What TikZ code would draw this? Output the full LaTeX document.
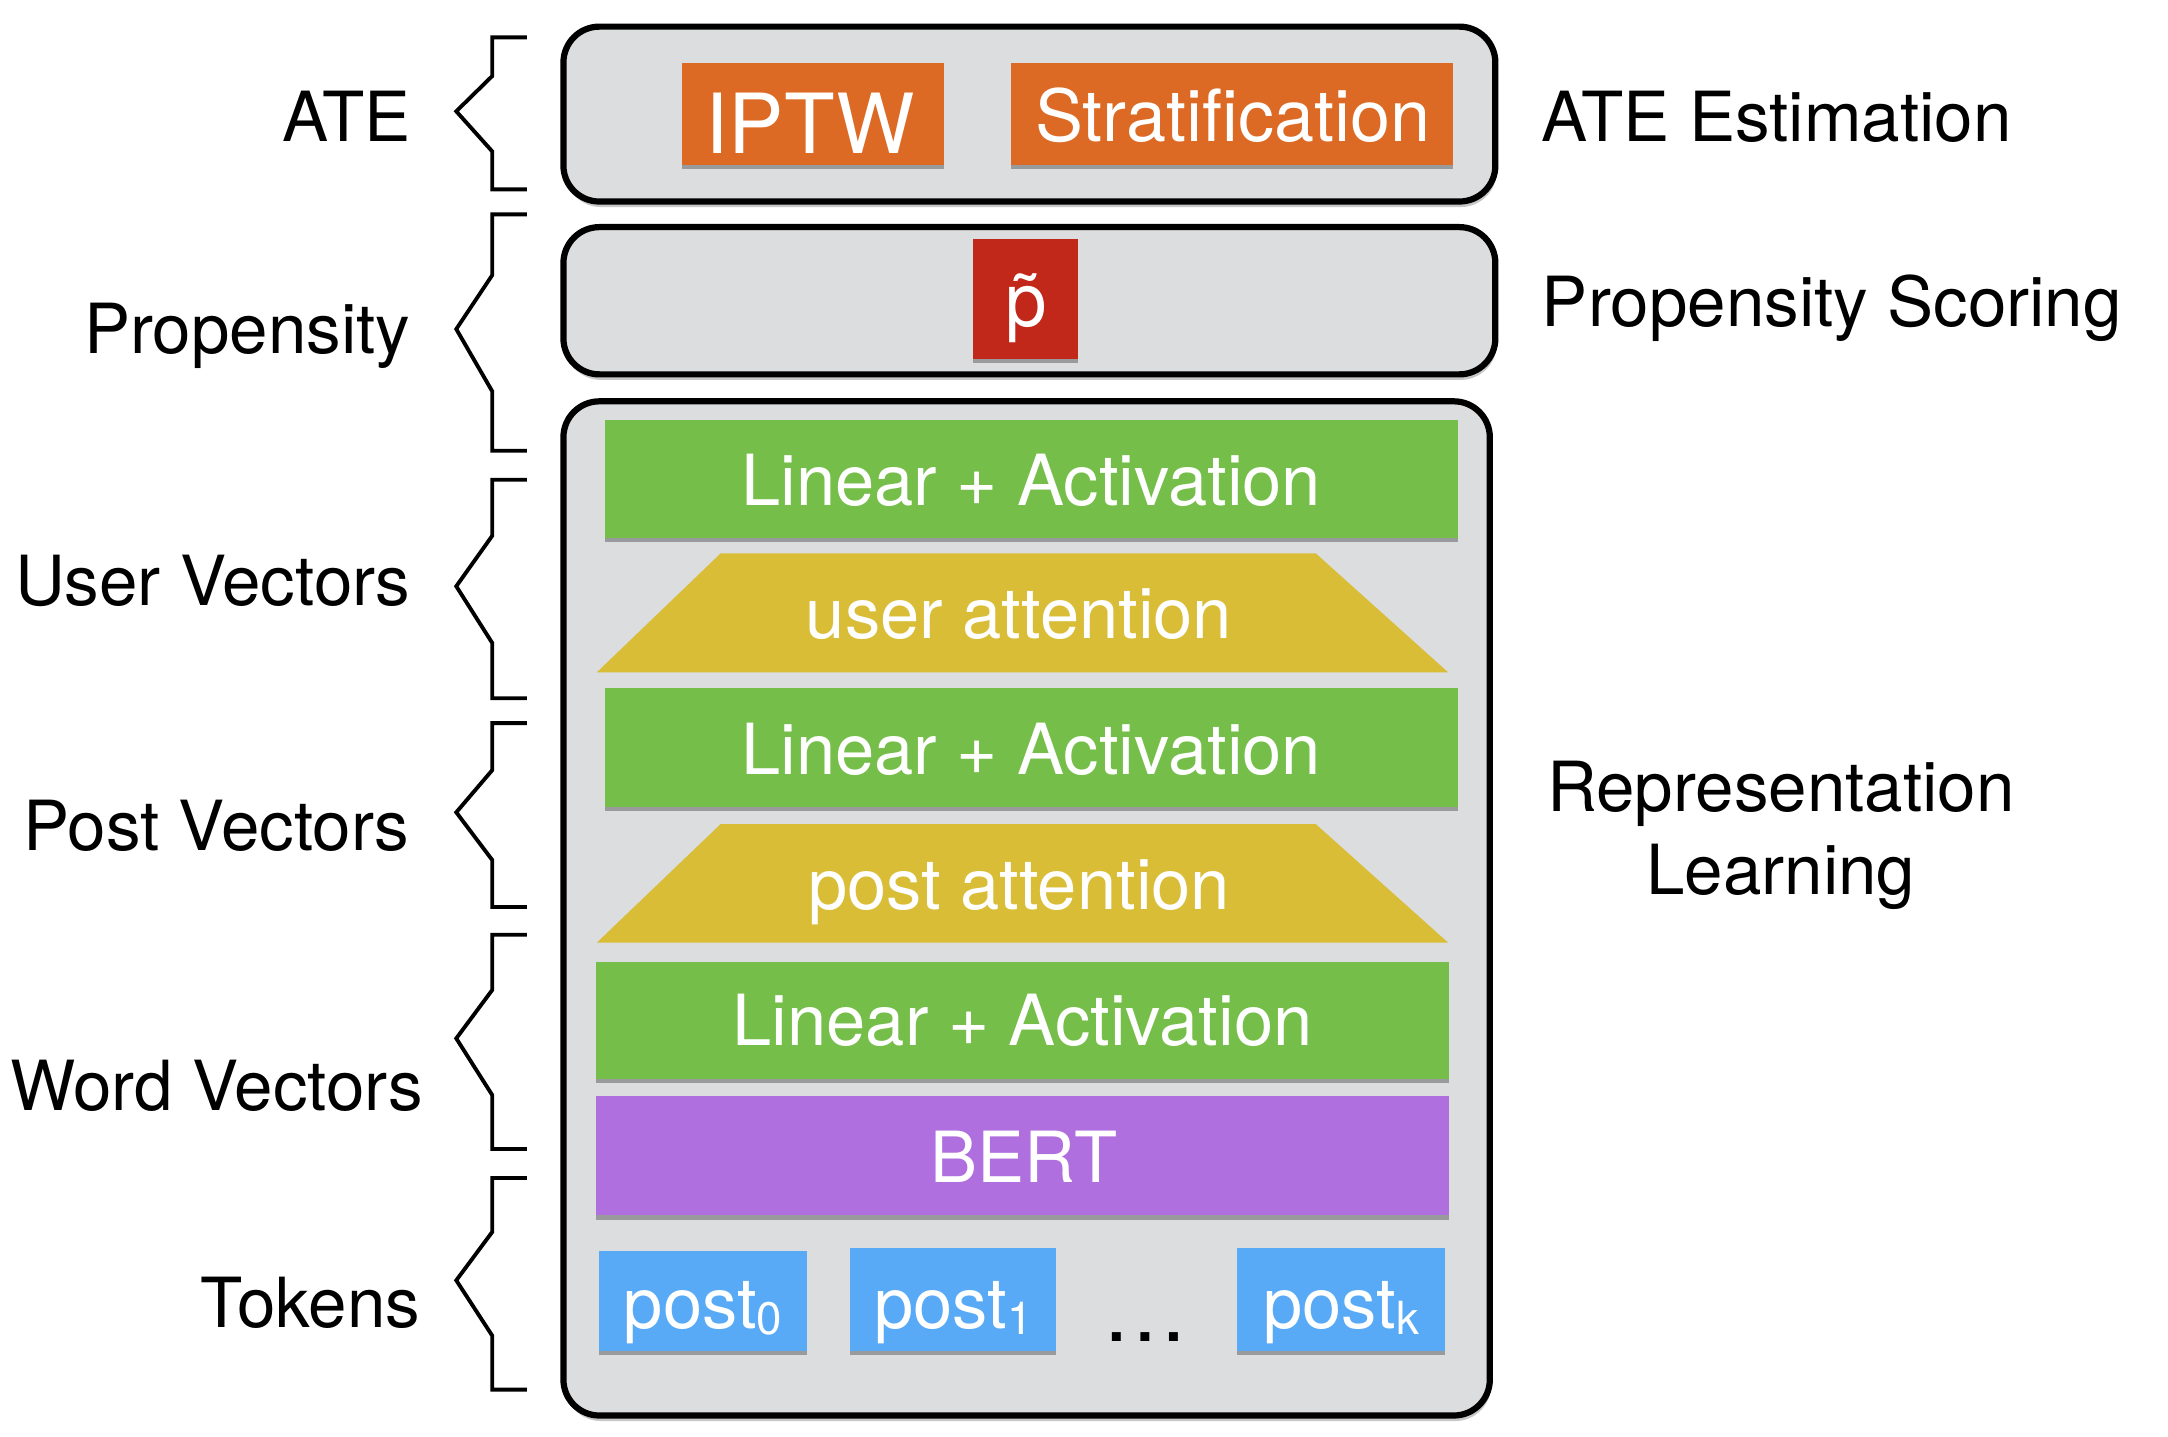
\documentclass[tikz,border=0pt]{standalone}
\usepackage{fontspec}
\setmainfont{TeX Gyre Heros}
\usetikzlibrary{shadows}
\definecolor{panel}{HTML}{DCDDDF}
\definecolor{orng}{HTML}{DC6A24}
\definecolor{redb}{HTML}{C2281A}
\definecolor{grn}{HTML}{76BE4A}
\definecolor{yel}{HTML}{D9BD36}
\definecolor{purp}{HTML}{B06FDE}
\definecolor{blu}{HTML}{58AAF6}
\begin{document}
\begin{tikzpicture}[x=1pt,y=-1pt,
  panelbox/.style={draw=black, line width=4.5pt, fill=panel, rounded corners=26pt, inner sep=0pt,
    drop shadow={shadow xshift=1pt, shadow yshift=-4pt, opacity=0.22, fill=black}},
  block/.style={draw=none, inner sep=0pt,
    drop shadow={shadow xshift=0pt, shadow yshift=-3pt, opacity=0.3, fill=black}},
  btext/.style={text=white, inner sep=0pt, anchor=base, font=\fontsize{51}{51}\selectfont},
  lbl/.style={inner sep=0pt, font=\fontsize{50}{60}\selectfont},
  bracket/.style={draw=black, line width=2.8pt, line join=miter}
]
\useasboundingbox (0,0) rectangle (1568,1039);

% outer panels
\node[panelbox, minimum width=674pt, minimum height=126.5pt] (ate) at (744.5,82.5) {};
\node[panelbox, minimum width=674pt, minimum height=106.5pt] (prop) at (744.5,217.5) {};
\node[panelbox, minimum width=670pt, minimum height=733.5pt] (rep) at (742.5,657) {};

% ATE blocks
\node[block, fill=orng, minimum width=189pt, minimum height=73.5pt] (iptw) at (588,82.5) {};
\node[btext, font=\fontsize{60}{60}\selectfont] (iptwt) at (586,111) {IPTW};
\node[block, fill=orng, minimum width=320pt, minimum height=73.5pt] (strat) at (891,82.5) {};
\node[btext, font=\fontsize{52}{52}\selectfont] (stratt) at (891.5,102.5) {Stratification};

% propensity
\node[block, fill=redb, minimum width=76pt, minimum height=87pt] (pt) at (741.7,216.3) {};
\node[btext, font=\fontsize{54}{54}\selectfont] (ptt) at (742,236.3) {p^^^^0303};

% representation learning stack
\node[block, fill=grn, minimum width=617pt, minimum height=85pt] (lin1) at (745.75,346.5) {};
\node[btext] (lin1t) at (745.75,365.5) {Linear + Activation};

\fill[yel] (431.6,486.3) -- (521.2,400.2) -- (951.6,400.2) -- (1047.4,486.3) -- cycle;
\node[btext] (uatt) at (737,462) {user attention};

\node[block, fill=grn, minimum width=617pt, minimum height=86pt] (lin2) at (745.75,540.8) {};
\node[btext] (lin2t) at (745.75,560.5) {Linear + Activation};

\fill[yel] (431.6,681.8) -- (521.2,596) -- (951.6,596) -- (1047.4,681.8) -- cycle;
\node[btext] (patt) at (737,658) {post attention};

\node[block, fill=grn, minimum width=617pt, minimum height=85pt] (lin3) at (739.5,737.9) {};
\node[btext] (lin3t) at (739.5,756.5) {Linear + Activation};

\node[block, fill=purp, minimum width=617pt, minimum height=86pt] (bert) at (739.5,836) {};
\node[btext] (bertt) at (740.5,855) {BERT};

\node[block, fill=blu, minimum width=151pt, minimum height=72pt] (p0) at (508.5,941) {};
\node[btext] (p0t) at (508.5,960.5) {post\raisebox{-5pt}{\fontsize{33}{33}\selectfont 0}};
\node[block, fill=blu, minimum width=149pt, minimum height=74.4pt] (p1) at (689.5,939.8) {};
\node[btext] (p1t) at (689.5,960.5) {post\raisebox{-5pt}{\fontsize{33}{33}\selectfont 1}};
\node[block, fill=blu, minimum width=150pt, minimum height=74.4pt] (pk) at (970,939.8) {};
\node[btext] (pkt) at (970,960.5) {post\raisebox{-5pt}{\fontsize{33}{33}\selectfont k}};
\node[inner sep=0pt, anchor=base, font=\fontsize{62}{62}\selectfont] (dots) at (828.5,970) {…};

% right labels
\node[lbl, anchor=base west] (ateest) at (1115,102) {ATE Estimation};
\node[lbl, anchor=base west] (propsc) at (1115,236) {Propensity Scoring};
\node[lbl, anchor=north, align=center] (replearn) at (1288,550) {Representation\\Learning};

% left labels
\node[lbl, anchor=base east] (lATE) at (297,102) {ATE};
\node[lbl, anchor=base east] (lprop) at (297,256) {Propensity};
\node[lbl, anchor=base east] (luser) at (297,438) {User Vectors};
\node[lbl, anchor=base east] (lpost) at (296,615) {Post Vectors};
\node[lbl, anchor=base east] (lword) at (306,803) {Word Vectors};
\node[lbl, anchor=base east] (ltok) at (304,960) {Tokens};

% brackets
\draw[bracket] (381,27) -- (356,27) -- (356,55) -- (330,80.5) -- (356,109.5) -- (356,137) -- (381,137);
\draw[bracket] (381,155) -- (356,155) -- (356,199) -- (330,238) -- (356,283) -- (356,326) -- (381,326);
\draw[bracket] (381,347) -- (356,347) -- (356,387.5) -- (330,424) -- (356,465) -- (356,505) -- (381,505);
\draw[bracket] (381,523) -- (356,523) -- (356,557) -- (330,587.5) -- (356,622) -- (356,656) -- (381,656);
\draw[bracket] (381,676) -- (356,676) -- (356,716) -- (330,751) -- (356,792) -- (356,831) -- (381,831);
\draw[bracket] (381,852) -- (356,852) -- (356,891) -- (330,926) -- (356,966) -- (356,1005) -- (381,1005);
\end{tikzpicture}
\end{document}
